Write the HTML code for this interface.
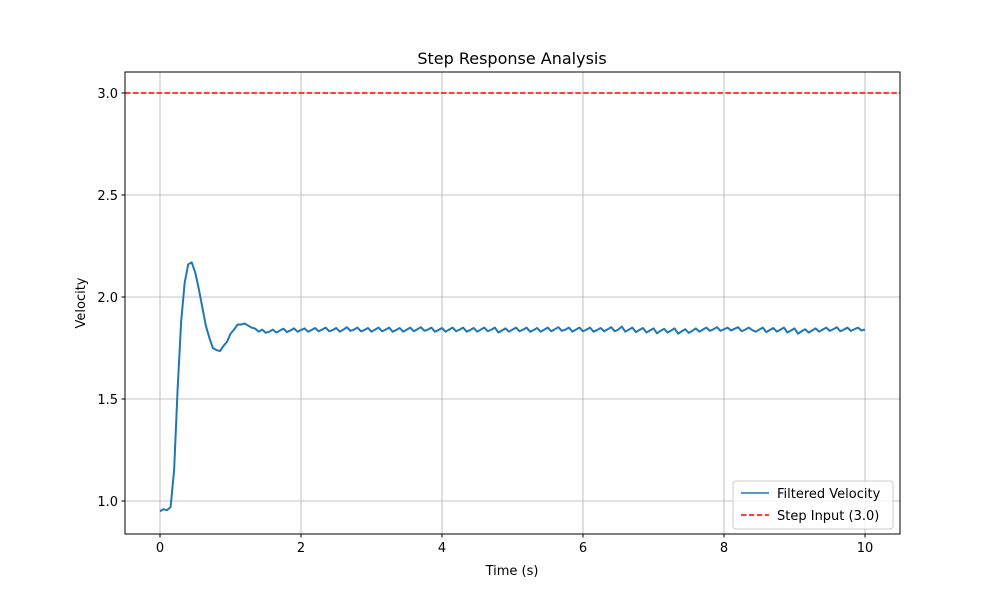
<!DOCTYPE html>
<html><head><meta charset="utf-8"><style>
body{margin:0;background:#fff;font-family:"Liberation Sans",sans-serif}
svg text{font-family:"DejaVu Sans","Liberation Sans",sans-serif}
</style></head><body>
<svg id="chart" width="1000" height="600">
<rect width="1000" height="600" fill="#fff"/>
<g id="grid"></g>
<g id="marks"></g>
<rect x="125" y="72" width="775" height="462" fill="none" stroke="#000" stroke-width="1"/>
<g id="ticks"></g>
<text x="512" y="64" font-size="16" text-anchor="middle">Step Response Analysis</text>
<text x="512" y="575" font-size="13" text-anchor="middle">Time (s)</text>
<text transform="translate(85,303) rotate(-90)" font-size="13" text-anchor="middle">Velocity</text>
<g>
<rect x="733" y="481" width="160" height="48" rx="3" fill="#fff" fill-opacity="0.8" stroke="#ccc"/>
<g>
<line x1="741" y1="493" x2="769" y2="493" stroke="#1f77b4" stroke-width="1.5"/>
<text x="777" y="498" font-size="13">Filtered Velocity</text></g>
<g>
<line x1="741" y1="515" x2="769" y2="515" stroke="#ff0000" stroke-width="1.5" stroke-dasharray="5.5,2.4"/>
<text x="777" y="520" font-size="13">Step Input (3.0)</text></g>
</g>
</svg>
<script>
const dt = 0.05;
const velocity = [0.95,0.96,0.955,0.97,1.15,1.55,1.88,2.07,2.16,2.17,2.12,2.04,1.95,1.86,1.80,1.75,1.74,1.735,1.76,1.78,1.82,1.84,1.865,1.865,1.87,1.86,1.85,1.845,1.83,1.84,1.825,
1.83,1.84,1.826,1.835,1.845,1.828,1.836,1.846,1.83,1.838,1.846,1.83,1.838,1.848,1.832,1.84,1.85,1.832,1.838,1.848,1.83,1.84,1.852,1.834,1.84,1.85,1.832,1.838,1.848,1.83,1.84,1.85,1.832,1.84,1.85,1.83,1.838,1.848,1.83,1.84,1.85,1.832,1.842,1.852,1.834,1.84,1.85,1.83,1.838,1.848,1.83,1.84,1.85,1.832,1.84,1.85,1.83,1.838,1.848,1.83,1.84,1.85,1.832,1.84,1.85,1.826,1.836,1.846,1.83,1.84,1.85,1.832,1.84,1.85,1.83,1.838,1.848,1.83,1.84,1.85,1.832,1.842,1.852,1.834,1.84,1.85,1.83,1.84,1.85,1.832,1.84,1.85,1.83,1.838,1.848,1.832,1.842,1.852,1.832,1.84,1.855,1.83,1.84,1.85,1.828,1.838,1.848,1.826,1.836,1.846,1.822,1.834,1.844,1.826,1.836,1.846,1.82,1.832,1.842,1.824,1.834,1.846,1.83,1.84,1.85,1.834,1.842,1.852,1.834,1.842,1.85,1.836,1.844,1.852,1.832,1.84,1.85,1.838,
1.83,1.84,1.85,1.828,1.838,1.848,1.83,1.84,1.85,1.826,1.836,1.846,1.82,1.832,1.842,1.826,1.836,1.846,1.83,1.84,1.85,1.834,1.842,1.852,1.832,1.84,1.85,1.834,1.842,1.85,1.836,1.84];
const stepValue = 3.0;
const xTicks = [0,2,4,6,8,10];
const yTicks = [1.0,1.5,2.0,2.5,3.0];
const xS = v => 160 + v * 70.5;
const yS = v => 501 - (v - 1.0) * 204;
const NS = 'http://www.w3.org/2000/svg';
const grid = document.getElementById('grid'), ticks = document.getElementById('ticks'), marks = document.getElementById('marks');
function mk(tag, attrs, parent){const e=document.createElementNS(NS,tag);for(const k in attrs)e.setAttribute(k,attrs[k]);parent.appendChild(e);return e;}
xTicks.forEach(t=>{
  const x=xS(t);
  const g=mk('line',{x1:x,x2:x,y1:72,y2:534,stroke:'#b0b0b0','stroke-width':0.8},grid);
  
  
  mk('line',{x1:x,x2:x,y1:534,y2:537.5,stroke:'#000'},ticks);
  const tx=mk('text',{x:x,y:552,'font-size':13,'text-anchor':'middle'},ticks);
  tx.textContent=String(t);
  
  
});
yTicks.forEach(t=>{
  const y=yS(t);
  const g=mk('line',{x1:125,x2:900,y1:y,y2:y,stroke:'#b0b0b0','stroke-width':0.8},grid);
  
  
  mk('line',{x1:121.5,x2:125,y1:y,y2:y,stroke:'#000'},ticks);
  const tx=mk('text',{x:118,y:y+5,'font-size':13,'text-anchor':'end'},ticks);
  tx.textContent=t.toFixed(1);
  
  
});
const pts=velocity.map((v,i)=>xS(i*dt).toFixed(2)+','+yS(v).toFixed(2)).join(' ');
const line=mk('polyline',{points:pts,fill:'none',stroke:'#1f77b4','stroke-width':2,'stroke-linejoin':'round'},marks);


const step=mk('line',{x1:125,x2:900,y1:yS(stepValue),y2:yS(stepValue),stroke:'#ff0000','stroke-width':1.5,'stroke-dasharray':'5.5,2.4'},marks);


</script>
</body></html>
